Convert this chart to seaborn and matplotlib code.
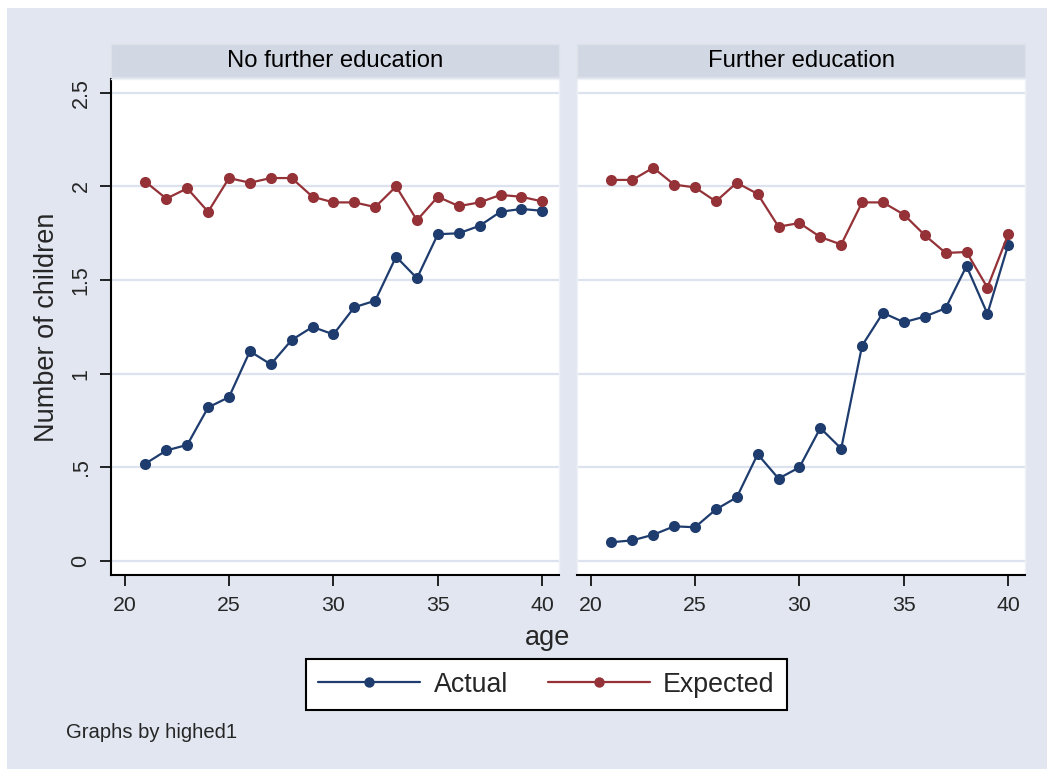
import matplotlib
matplotlib.use("Agg")
import matplotlib.pyplot as plt
import matplotlib.patches as mpatches
import seaborn as sns
import pandas as pd

# ---- data ----
ages = list(range(21, 41))
nofurther_actual = [0.52, 0.59, 0.62, 0.82, 0.875, 1.12, 1.05, 1.18, 1.25, 1.21,
                    1.355, 1.39, 1.625, 1.51, 1.745, 1.75, 1.79, 1.865, 1.88, 1.87]
nofurther_expected = [2.025, 1.935, 1.99, 1.865, 2.045, 2.02, 2.045, 2.045, 1.945, 1.915,
                      1.915, 1.89, 2.0, 1.82, 1.945, 1.895, 1.915, 1.955, 1.945, 1.92]
further_actual = [0.10, 0.11, 0.14, 0.185, 0.18, 0.275, 0.34, 0.57, 0.44, 0.50,
                  0.71, 0.60, 1.15, 1.325, 1.275, 1.305, 1.35, 1.575, 1.32, 1.69]
further_expected = [2.035, 2.035, 2.10, 2.01, 1.995, 1.92, 2.02, 1.96, 1.785, 1.805,
                    1.73, 1.69, 1.915, 1.915, 1.85, 1.74, 1.645, 1.65, 1.46, 1.745]
panel_titles = ["No further education", "Further education"]
series_names = ["Actual", "Expected"]
yticks = [0, 0.5, 1, 1.5, 2, 2.5]
ytick_labels = ["0", ".5", "1", "1.5", "2", "2.5"]
xticks = [20, 25, 30, 35, 40]

panels = {
    panel_titles[0]: (nofurther_actual, nofurther_expected),
    panel_titles[1]: (further_actual, further_expected),
}
rows = []
for pt, (act, exp) in panels.items():
    for a, v1, v2 in zip(ages, act, exp):
        rows.append({"panel": pt, "age": a, "series": series_names[0], "value": v1})
        rows.append({"panel": pt, "age": a, "series": series_names[1], "value": v2})
df = pd.DataFrame(rows)

# ---- style ----
W, H = 1047, 769
BG = "#E1E6F0"
STRIP = "#D2D8E3"
GRID = "#DCE2EE"
NAVY = "#1E3C6E"
MAROON = "#943238"
palette = {series_names[0]: NAVY, series_names[1]: MAROON}

sns.set_theme(style="white")
plt.rcParams["font.family"] = ["Liberation Sans", "DejaVu Sans"]

fig = plt.figure(figsize=(W / 100, H / 100), dpi=100)
fig.patch.set_facecolor("white")
fig.patches.append(mpatches.Rectangle((7 / W, 0), 1 - 7 / W, 1 - 8 / H,
                                      transform=fig.transFigure, facecolor=BG,
                                      edgecolor="none", zorder=-10))

def fx(px):
    return px / W

def fy(py):
    return 1 - py / H

panel_lefts = [111, 577]
panel_w = 448
top, bottom = 79, 575

handles = labels = None
for i, pt in enumerate(panel_titles):
    left = panel_lefts[i]
    ax = fig.add_axes([fx(left), fy(bottom), panel_w / W, (bottom - top) / H])
    ax.set_facecolor("white")
    sub = df[df["panel"] == pt]
    sns.lineplot(data=sub, x="age", y="value", hue="series", palette=palette,
                 marker="o", markersize=8, markeredgewidth=0, linewidth=1.6,
                 errorbar=None, ax=ax, legend=(i == 0))
    if i == 0:
        handles, labels = ax.get_legend_handles_labels()
        ax.get_legend().remove()
    ax.set_xlim(19.35, 40.8)
    ax.set_ylim(-0.075, 2.574)
    ax.set_yticks(yticks)
    ax.set_xticks(xticks)
    ax.set_xticklabels([str(t) for t in xticks], fontsize=15.3)
    ax.grid(axis="y", color=GRID, linewidth=1.6)
    ax.set_axisbelow(True)
    ax.set_xlabel("")
    ax.set_ylabel("")
    ax.tick_params(axis="x", direction="out", length=8, width=1.2, color="black",
                   pad=7, bottom=True)
    for s in ["top", "right"]:
        ax.spines[s].set_color("#EEF1F7")
        ax.spines[s].set_linewidth(1)
    ax.spines["bottom"].set_color("black")
    ax.spines["bottom"].set_linewidth(1.5)
    if i == 0:
        ax.set_yticklabels(ytick_labels, fontsize=15.5, rotation=90, va="center")
        ax.tick_params(axis="y", direction="out", length=8, width=1.2,
                       color="black", pad=6, left=True)
        ax.spines["left"].set_color("black")
        ax.spines["left"].set_linewidth(1.5)
    else:
        ax.set_yticklabels([])
        ax.tick_params(axis="y", left=False, length=0)
        ax.spines["left"].set_color("#EEF1F7")
        ax.spines["left"].set_linewidth(1)

    # strip header
    sax = fig.add_axes([fx(left), fy(77), panel_w / W, 33.5 / H])
    sax.set_facecolor(STRIP)
    sax.set_xticks([])
    sax.set_yticks([])
    for s in sax.spines.values():
        s.set_color("#DCE1EA")
        s.set_linewidth(1)
    sax.text(0.5, 0.47, pt, ha="center", va="center", fontsize=17.2,
             color="black", transform=sax.transAxes)

fig.text(fx(47), fy(327), "Number of children", rotation=90, ha="center",
         va="center", fontsize=19.5)
fig.text(fx(548), fy(638), "age", ha="center", va="center", fontsize=19.5)
fig.text(fx(66), fy(732), "Graphs by highed1", ha="left", va="center",
         fontsize=14.6)

for h in handles:
    h.set_markersize(7.5)
    h.set_linewidth(1.6)
leg = fig.legend(handles, labels, loc="center",
                 bbox_to_anchor=(fx(546.5), fy(684.5)), ncol=2, fontsize=19.3,
                 frameon=True, fancybox=False, framealpha=1, edgecolor="black",
                 handlelength=3.8, handletextpad=0.5, columnspacing=1.5,
                 borderpad=0.45, borderaxespad=0)
leg.get_frame().set_linewidth(1.5)
leg.get_frame().set_facecolor("white")

fig.savefig("out.png", dpi=100, facecolor=fig.get_facecolor())
